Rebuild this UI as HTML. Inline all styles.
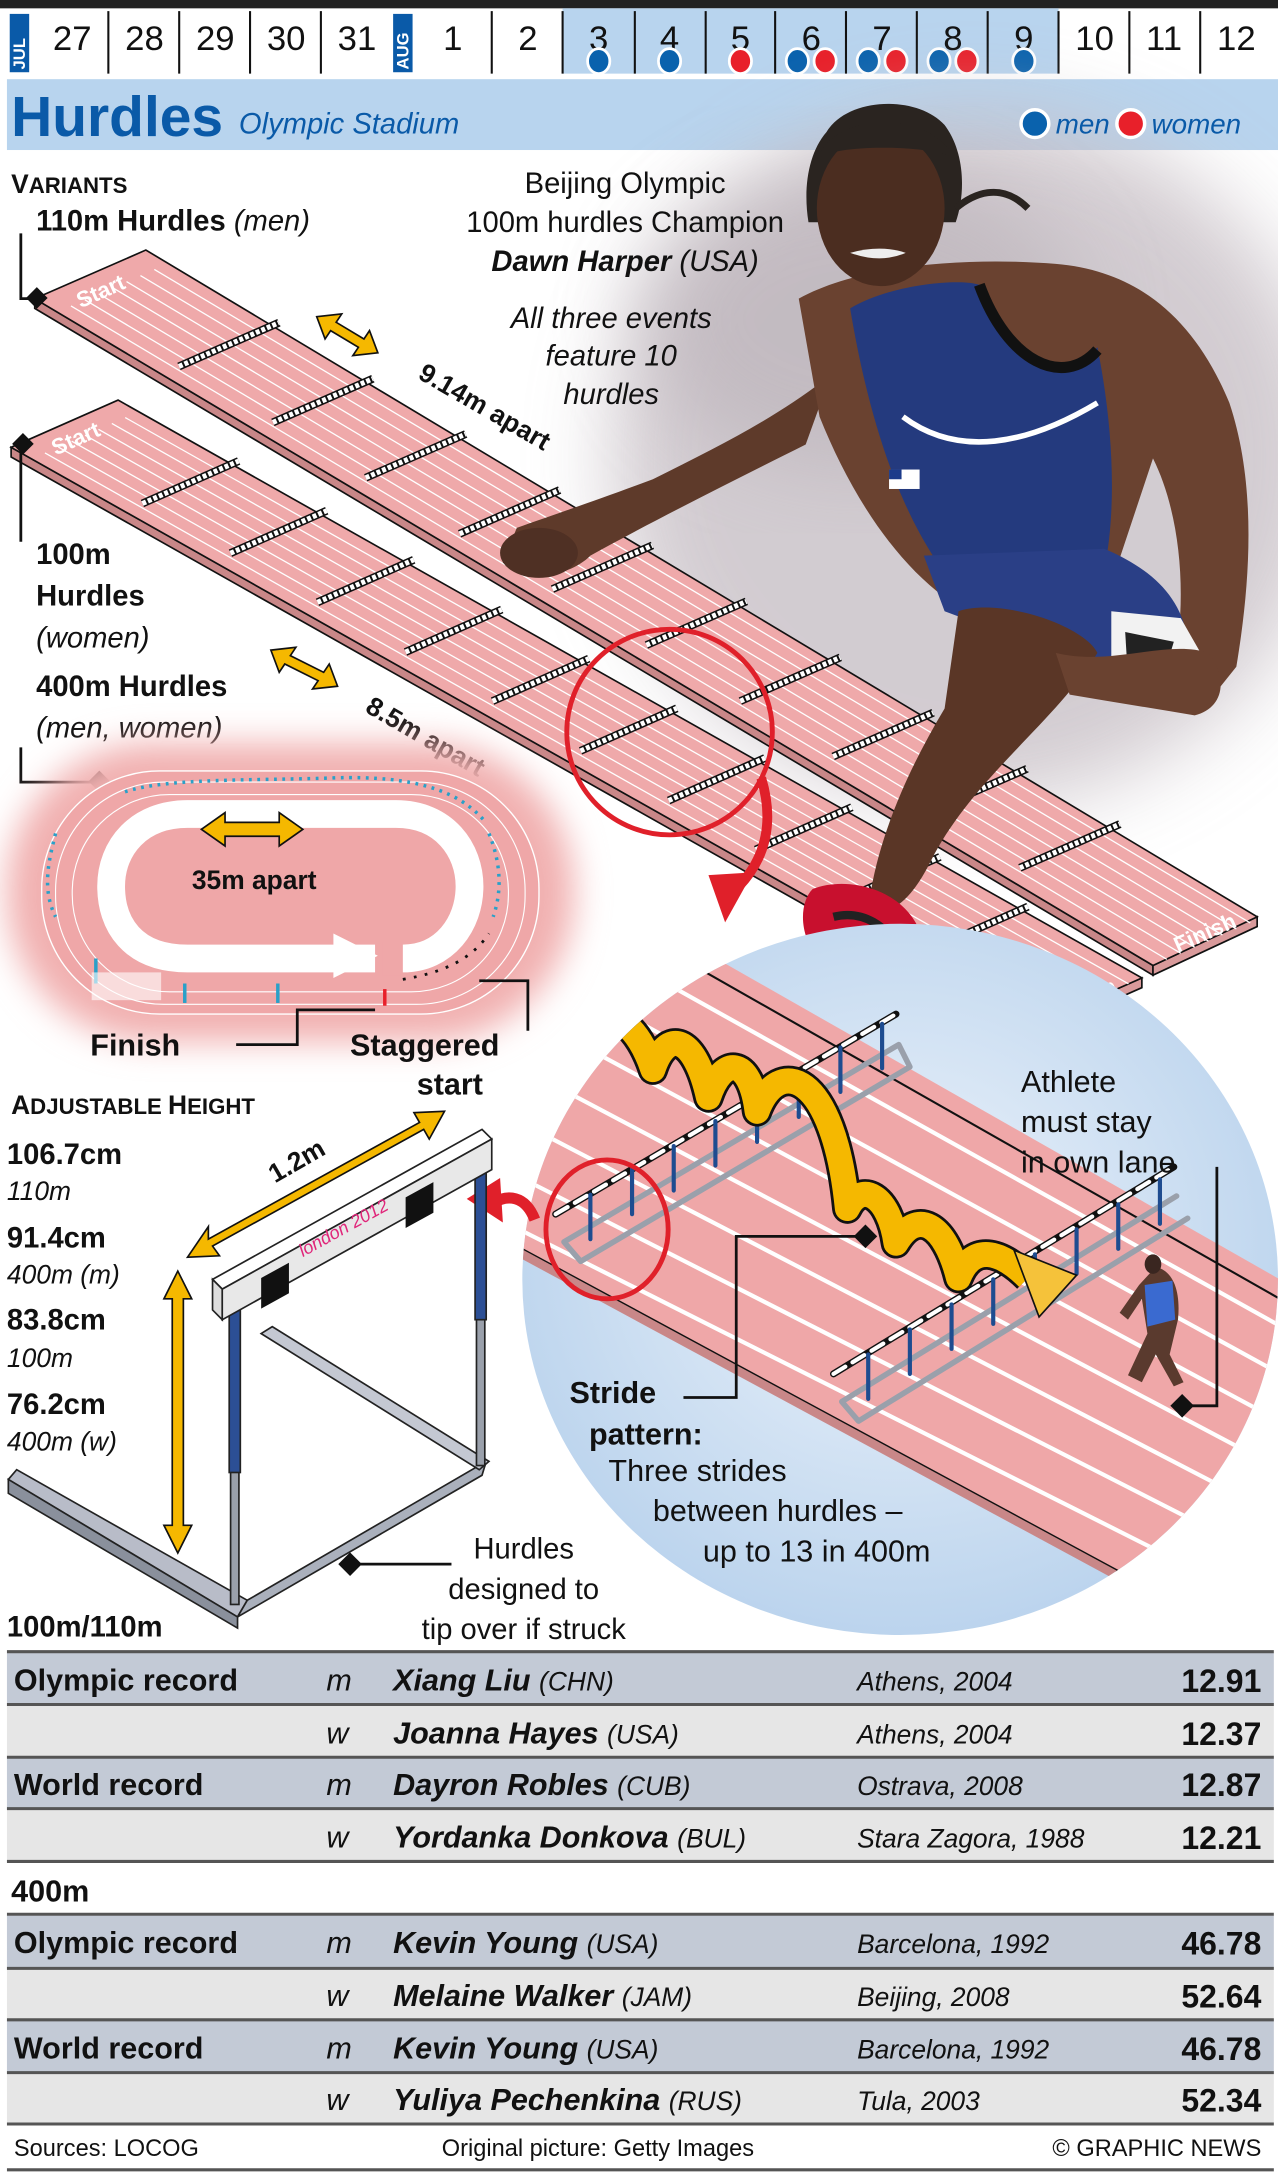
<!DOCTYPE html>
<html><head><meta charset="utf-8"><style>
html,body{margin:0;padding:0;background:#fff}
svg{display:block}
text{font-family:"Liberation Sans",sans-serif}
</style></head><body>
<svg width="1278" height="2174" viewBox="0 0 920 1565" preserveAspectRatio="none" xmlns="http://www.w3.org/2000/svg">
<defs>
<filter id="blur" x="-20%" y="-20%" width="140%" height="140%"><feGaussianBlur stdDeviation="12"/></filter>
<filter id="blur2" x="-20%" y="-20%" width="140%" height="140%"><feGaussianBlur stdDeviation="30"/></filter>
<radialGradient id="cg" cx="0.5" cy="0.45" r="0.6"><stop offset="0" stop-color="#eef4fb"/><stop offset="1" stop-color="#b7d1ec"/></radialGradient>
<clipPath id="cc"><ellipse cx="648" cy="921" rx="272" ry="256"/></clipPath>
</defs>

<!-- calendar -->
<rect x="0" y="0" width="920" height="6" fill="#222"/>
<rect x="405" y="6" width="357" height="47" fill="#b8d4ee"/>
<g stroke="#111" stroke-width="1.5">
<line x1="78" y1="8" x2="78" y2="53"/><line x1="129" y1="8" x2="129" y2="53"/><line x1="180" y1="8" x2="180" y2="53"/><line x1="231" y1="8" x2="231" y2="53"/>
<line x1="354" y1="8" x2="354" y2="53"/><line x1="405" y1="8" x2="405" y2="53"/><line x1="457" y1="8" x2="457" y2="53"/><line x1="508" y1="8" x2="508" y2="53"/><line x1="558" y1="8" x2="558" y2="53"/><line x1="609" y1="8" x2="609" y2="53"/><line x1="660" y1="8" x2="660" y2="53"/><line x1="711" y1="8" x2="711" y2="53"/><line x1="762" y1="8" x2="762" y2="53"/><line x1="813" y1="8" x2="813" y2="53"/><line x1="864" y1="8" x2="864" y2="53"/>
</g>
<rect x="7" y="10" width="14" height="42" fill="#0a5aa8"/>
<text transform="translate(18,50) rotate(-90)" font-size="12" font-weight="bold" fill="#fff">JUL</text>
<rect x="283" y="10" width="14" height="42" fill="#0a5aa8"/>
<text transform="translate(294,50) rotate(-90)" font-size="12" font-weight="bold" fill="#fff">AUG</text>
<g font-size="25" fill="#111" text-anchor="middle">
<text x="52" y="36">27</text><text x="104" y="36">28</text><text x="155" y="36">29</text><text x="206" y="36">30</text><text x="257" y="36">31</text>
<text x="326" y="36">1</text><text x="380" y="36">2</text><text x="431" y="36">3</text><text x="482" y="36">4</text><text x="533" y="36">5</text><text x="584" y="36">6</text><text x="635" y="36">7</text><text x="686" y="36">8</text><text x="737" y="36">9</text><text x="788" y="36">10</text><text x="838" y="36">11</text><text x="890" y="36">12</text>
</g>
<g stroke="#fff" stroke-width="2">
<ellipse cx="431" cy="44" rx="8" ry="9" fill="#0a62ad"/><ellipse cx="482" cy="44" rx="8" ry="9" fill="#0a62ad"/><ellipse cx="533" cy="44" rx="8" ry="9" fill="#e8202a"/>
<ellipse cx="574" cy="44" rx="8" ry="9" fill="#0a62ad"/><ellipse cx="594" cy="44" rx="8" ry="9" fill="#e8202a"/>
<ellipse cx="625" cy="44" rx="8" ry="9" fill="#0a62ad"/><ellipse cx="645" cy="44" rx="8" ry="9" fill="#e8202a"/>
<ellipse cx="676" cy="44" rx="8" ry="9" fill="#0a62ad"/><ellipse cx="696" cy="44" rx="8" ry="9" fill="#e8202a"/>
<ellipse cx="737" cy="44" rx="8" ry="9" fill="#0a62ad"/>
</g>
<!-- title band -->
<rect x="5" y="57" width="915" height="51" fill="#b8d4ee"/>
<text x="8" y="98" font-size="41" font-weight="bold" fill="#0a5aa8">Hurdles</text>
<text x="172" y="96" font-size="21" font-style="italic" fill="#0a5aa8">Olympic Stadium</text>

<!-- photo haze -->
<ellipse cx="700" cy="330" rx="260" ry="250" fill="#c8c0c6" filter="url(#blur2)" opacity="0.8"/>
<ellipse cx="620" cy="230" rx="160" ry="110" fill="#b9b0b7" filter="url(#blur2)" opacity="0.6"/>

<!-- tracks -->
<g stroke="#111" stroke-width="1.2">
<polygon points="25,215 830,695 830,702 25,222" fill="#c98788"/>
<polygon points="830,695 905,660 905,667 830,702" fill="#d99a9b"/>
<polygon points="25,215 105,180 905,660 830,695" fill="#efa9aa"/>
<polygon points="8,322 745,738 745,745 8,329" fill="#c98788"/>
<polygon points="745,738 822,704 822,711 745,745" fill="#d99a9b"/>
<polygon points="8,322 85,288 822,704 745,738" fill="#efa9aa"/>
</g>
<g transform="matrix(805,480,80,-35,25,215)" stroke="#fff" stroke-width="1.3">
<line x1="0.02" y1="0.125" x2="1" y2="0.125" vector-effect="non-scaling-stroke"/><line x1="0.02" y1="0.25" x2="1" y2="0.25" vector-effect="non-scaling-stroke"/><line x1="0.02" y1="0.375" x2="1" y2="0.375" vector-effect="non-scaling-stroke"/><line x1="0.02" y1="0.5" x2="1" y2="0.5" vector-effect="non-scaling-stroke"/><line x1="0.02" y1="0.625" x2="1" y2="0.625" vector-effect="non-scaling-stroke"/><line x1="0.02" y1="0.75" x2="1" y2="0.75" vector-effect="non-scaling-stroke"/><line x1="0.02" y1="0.875" x2="1" y2="0.875" vector-effect="non-scaling-stroke"/>
</g>
<g transform="matrix(737,416,77,-34,8,322)" stroke="#fff" stroke-width="1.3">
<line x1="0.02" y1="0.125" x2="1" y2="0.125" vector-effect="non-scaling-stroke"/><line x1="0.02" y1="0.25" x2="1" y2="0.25" vector-effect="non-scaling-stroke"/><line x1="0.02" y1="0.375" x2="1" y2="0.375" vector-effect="non-scaling-stroke"/><line x1="0.02" y1="0.5" x2="1" y2="0.5" vector-effect="non-scaling-stroke"/><line x1="0.02" y1="0.625" x2="1" y2="0.625" vector-effect="non-scaling-stroke"/><line x1="0.02" y1="0.75" x2="1" y2="0.75" vector-effect="non-scaling-stroke"/><line x1="0.02" y1="0.875" x2="1" y2="0.875" vector-effect="non-scaling-stroke"/>
</g>
<!-- hurdles on tracks -->
<g transform="translate(0,-9)">
<g transform="matrix(805,480,80,-35,25,215)">
<g stroke="#111" stroke-width="8">
<line x1="0.124" y1="0.05" x2="0.124" y2="0.95" vector-effect="non-scaling-stroke"/><line x1="0.208" y1="0.05" x2="0.208" y2="0.95" vector-effect="non-scaling-stroke"/><line x1="0.291" y1="0.05" x2="0.291" y2="0.95" vector-effect="non-scaling-stroke"/><line x1="0.375" y1="0.05" x2="0.375" y2="0.95" vector-effect="non-scaling-stroke"/><line x1="0.458" y1="0.05" x2="0.458" y2="0.95" vector-effect="non-scaling-stroke"/><line x1="0.542" y1="0.05" x2="0.542" y2="0.95" vector-effect="non-scaling-stroke"/><line x1="0.626" y1="0.05" x2="0.626" y2="0.95" vector-effect="non-scaling-stroke"/><line x1="0.709" y1="0.05" x2="0.709" y2="0.95" vector-effect="non-scaling-stroke"/><line x1="0.793" y1="0.05" x2="0.793" y2="0.95" vector-effect="non-scaling-stroke"/><line x1="0.876" y1="0.05" x2="0.876" y2="0.95" vector-effect="non-scaling-stroke"/>
</g>
<g stroke="#fff" stroke-width="5" stroke-dasharray="4 2">
<line x1="0.124" y1="0.05" x2="0.124" y2="0.95" vector-effect="non-scaling-stroke"/><line x1="0.208" y1="0.05" x2="0.208" y2="0.95" vector-effect="non-scaling-stroke"/><line x1="0.291" y1="0.05" x2="0.291" y2="0.95" vector-effect="non-scaling-stroke"/><line x1="0.375" y1="0.05" x2="0.375" y2="0.95" vector-effect="non-scaling-stroke"/><line x1="0.458" y1="0.05" x2="0.458" y2="0.95" vector-effect="non-scaling-stroke"/><line x1="0.542" y1="0.05" x2="0.542" y2="0.95" vector-effect="non-scaling-stroke"/><line x1="0.626" y1="0.05" x2="0.626" y2="0.95" vector-effect="non-scaling-stroke"/><line x1="0.709" y1="0.05" x2="0.709" y2="0.95" vector-effect="non-scaling-stroke"/><line x1="0.793" y1="0.05" x2="0.793" y2="0.95" vector-effect="non-scaling-stroke"/><line x1="0.876" y1="0.05" x2="0.876" y2="0.95" vector-effect="non-scaling-stroke"/>
</g>
</g>
<g transform="matrix(737,416,77,-34,8,322)">
<g stroke="#111" stroke-width="8">
<line x1="0.123" y1="0.05" x2="0.123" y2="0.95" vector-effect="non-scaling-stroke"/><line x1="0.209" y1="0.05" x2="0.209" y2="0.95" vector-effect="non-scaling-stroke"/><line x1="0.294" y1="0.05" x2="0.294" y2="0.95" vector-effect="non-scaling-stroke"/><line x1="0.380" y1="0.05" x2="0.380" y2="0.95" vector-effect="non-scaling-stroke"/><line x1="0.465" y1="0.05" x2="0.465" y2="0.95" vector-effect="non-scaling-stroke"/><line x1="0.551" y1="0.05" x2="0.551" y2="0.95" vector-effect="non-scaling-stroke"/><line x1="0.637" y1="0.05" x2="0.637" y2="0.95" vector-effect="non-scaling-stroke"/><line x1="0.722" y1="0.05" x2="0.722" y2="0.95" vector-effect="non-scaling-stroke"/><line x1="0.808" y1="0.05" x2="0.808" y2="0.95" vector-effect="non-scaling-stroke"/><line x1="0.894" y1="0.05" x2="0.894" y2="0.95" vector-effect="non-scaling-stroke"/>
</g>
<g stroke="#fff" stroke-width="5" stroke-dasharray="4 2">
<line x1="0.123" y1="0.05" x2="0.123" y2="0.95" vector-effect="non-scaling-stroke"/><line x1="0.209" y1="0.05" x2="0.209" y2="0.95" vector-effect="non-scaling-stroke"/><line x1="0.294" y1="0.05" x2="0.294" y2="0.95" vector-effect="non-scaling-stroke"/><line x1="0.380" y1="0.05" x2="0.380" y2="0.95" vector-effect="non-scaling-stroke"/><line x1="0.465" y1="0.05" x2="0.465" y2="0.95" vector-effect="non-scaling-stroke"/><line x1="0.551" y1="0.05" x2="0.551" y2="0.95" vector-effect="non-scaling-stroke"/><line x1="0.637" y1="0.05" x2="0.637" y2="0.95" vector-effect="non-scaling-stroke"/><line x1="0.722" y1="0.05" x2="0.722" y2="0.95" vector-effect="non-scaling-stroke"/><line x1="0.808" y1="0.05" x2="0.808" y2="0.95" vector-effect="non-scaling-stroke"/><line x1="0.894" y1="0.05" x2="0.894" y2="0.95" vector-effect="non-scaling-stroke"/>
</g>
</g>
</g>
<g font-size="16" font-weight="bold" fill="#fff">
<text transform="translate(58,222) rotate(-24)">Start</text>
<text transform="translate(40,328) rotate(-24)">Start</text>
<text transform="translate(848,686) rotate(-24)">Finish</text>
<text transform="translate(762,733) rotate(-24)">Finish</text>
</g>

<!-- athlete -->
<g>
<path d="M598,270 C560,300 520,320 470,345 C430,360 400,370 372,380 L362,405 C380,420 410,415 425,400 C470,375 530,345 580,320 Z" fill="#5e3a2a"/>
<ellipse cx="388" cy="398" rx="28" ry="18" fill="#4f3024"/>
<path d="M575,215 C620,190 700,185 760,190 C820,195 860,230 885,290 C905,350 900,420 890,480 L870,505 C855,510 840,500 845,480 C855,430 850,370 830,330 L800,420 L680,430 C640,400 610,350 590,300 Z" fill="#6a4230"/>
<path d="M612,222 C640,205 690,200 705,205 C720,260 760,280 790,250 C800,300 805,360 795,410 L690,425 C660,390 630,330 612,222 Z" fill="#243a7e"/>
<path d="M705,205 C725,260 765,280 790,252" fill="none" stroke="#111" stroke-width="8"/>
<path d="M650,300 C690,330 740,320 790,290" fill="none" stroke="#fff" stroke-width="4"/>
<rect x="640" y="338" width="22" height="14" fill="#fff"/><rect x="640" y="338" width="9" height="7" fill="#1c3a8a"/>
<path d="M665,400 L795,395 C830,410 850,430 855,460 L830,500 L760,470 L680,440 Z" fill="#2a3f86"/>
<path d="M800,440 L850,445 L870,480 L840,510 L800,495 Z" fill="#f2f2f2"/>
<path d="M810,455 L845,462 L835,495 L812,488 Z" fill="#222"/>
<path d="M690,440 C720,430 780,450 790,470 C760,520 700,560 670,620 C655,650 640,660 625,655 C630,610 650,560 680,510 Z" fill="#5a3626"/>
<path d="M760,470 C800,480 840,460 870,470 C885,490 880,510 860,515 C830,510 800,505 770,500 Z" fill="#6a4230"/>
<path d="M585,640 C610,630 650,640 662,670 C668,700 660,720 640,725 C625,720 610,700 590,690 C575,675 575,650 585,640 Z" fill="#c8102e"/>
<path d="M600,660 C620,655 640,665 650,690" stroke="#222" stroke-width="6" fill="none"/>
<path d="M595,95 C610,70 660,68 680,90 C695,110 695,140 688,160 L582,160 C578,135 582,110 595,95 Z" fill="#2a2420"/>
<ellipse cx="634" cy="150" rx="46" ry="56" fill="#4b2d20"/>
<path d="M588,115 C600,80 670,78 688,115 C680,105 600,102 588,115 Z" fill="#2a2420"/>
<path d="M688,150 C700,140 720,130 740,150" stroke="#2a2420" stroke-width="5" fill="none"/>
<path d="M612,182 Q634,176 652,182 Q634,190 612,182 Z" fill="#eee"/>
</g>

<!-- header texts -->
<g fill="#111" text-anchor="middle">
<text x="450" y="139" font-size="21">Beijing Olympic</text>
<text x="450" y="167" font-size="21">100m hurdles Champion</text>
<text x="450" y="195" font-size="21" font-weight="bold" font-style="italic">Dawn Harper <tspan font-weight="normal">(USA)</tspan></text>
<text x="440" y="236" font-size="21" font-style="italic">All three events</text>
<text x="440" y="263" font-size="21" font-style="italic">feature 10</text>
<text x="440" y="291" font-size="21" font-style="italic">hurdles</text>
</g>
<g fill="#111" font-weight="bold">
<text x="8" y="139" font-size="19">V<tspan font-size="16">ARIANTS</tspan></text>
<text x="26" y="166" font-size="21">110m Hurdles <tspan font-weight="normal" font-style="italic">(men)</tspan></text>
<text x="26" y="406" font-size="21">100m</text>
<text x="26" y="436" font-size="21">Hurdles</text>
<text x="26" y="466" font-size="21" font-weight="normal" font-style="italic">(women)</text>
<text x="26" y="501" font-size="21">400m Hurdles</text>
<text x="26" y="531" font-size="21" font-weight="normal" font-style="italic">(men, women)</text>
</g>
<g stroke="#111" stroke-width="2" fill="none">
<polyline points="15,168 15,215 28,215"/>
<polyline points="15,325 15,390"/>
<polyline points="15,538 15,563 70,563"/>
</g>
<g fill="#111">
<rect x="21" y="209" width="11" height="11" transform="rotate(45 26.5 214.5)"/>
<rect x="11" y="314" width="11" height="11" transform="rotate(45 16.5 319.5)"/>
<rect x="66" y="557" width="11" height="11" transform="rotate(45 71.5 562.5)"/>
</g>
<!-- yellow arrows -->
<g fill="#f5b800" stroke="#111" stroke-width="1.2">
<polygon points="228,228 246,226 242,232 262,244 266,238 272,254 254,256 258,250 238,238 234,244"/>
<polygon points="195,468 213,466 209,472 233,484 237,478 243,494 225,496 229,490 205,478 201,484"/>
</g>
<g fill="#111" font-weight="bold" font-size="19">
<text transform="translate(300,272) rotate(30)">9.14m apart</text>
<text transform="translate(262,512) rotate(30)">8.5m apart</text>
</g>

<!-- oval track -->
<rect x="5" y="535" width="408" height="215" rx="105" fill="#f1b0b0" filter="url(#blur)"/>
<rect x="30" y="555" width="358" height="175" rx="85" fill="#efa7a8" stroke="#fff" stroke-width="1" />
<rect x="40" y="563" width="338" height="160" rx="78" fill="none" stroke="#fff" stroke-width="0.8"/>
<rect x="52" y="572" width="314" height="142" rx="70" fill="none" stroke="#fff" stroke-width="0.8"/>
<path d="M270,690 L135,690 C95,690 80,665 80,638 C80,610 100,586 135,586 L285,586 C320,586 338,612 338,638 C338,665 320,690 290,690" fill="#efa7a8" stroke="#fff" stroke-width="20"/>
<polygon points="240,672 272,688 240,704" fill="#fff"/>
<rect x="275" y="678" width="14" height="24" fill="#efa7a8"/>
<g stroke="#2aa0c8" stroke-width="2.5" stroke-dasharray="2 4" fill="none">
<path d="M90,570 C120,560 180,562 240,560 C300,558 330,570 348,590"/>
<path d="M40,600 C35,620 30,640 40,660"/>
<path d="M352,600 C360,620 362,640 355,660"/>
</g>
<path d="M290,705 C320,700 340,690 352,672" stroke="#111" stroke-width="2" stroke-dasharray="2 6" fill="none"/>
<g stroke="#2aa0c8" stroke-width="2.5"><line x1="69" y1="690" x2="69" y2="708"/><line x1="133" y1="708" x2="133" y2="722"/><line x1="200" y1="708" x2="200" y2="722"/></g>
<line x1="277" y1="712" x2="277" y2="724" stroke="#e8202a" stroke-width="2.5"/>
<rect x="66" y="700" width="50" height="20" fill="#fff" opacity="0.6"/>
<g fill="#f5b800" stroke="#111" stroke-width="1.2">
<polygon points="145,597 162,585 162,592 201,592 201,585 218,597 201,609 201,602 162,602 162,609"/>
</g>
<text x="183" y="640" font-size="19" font-weight="bold" fill="#111" text-anchor="middle">35m apart</text>
<text x="65" y="760" font-size="22" font-weight="bold" fill="#111">Finish</text>
<text x="252" y="760" font-size="22" font-weight="bold" fill="#111">Staggered</text>
<text x="300" y="788" font-size="22" font-weight="bold" fill="#111">start</text>
<polyline points="170,752 214,752 214,727 270,727" stroke="#111" stroke-width="2" fill="none"/>
<polyline points="345,706 380,706 380,742" stroke="#111" stroke-width="2" fill="none"/>

<!-- red circle on track -->
<circle cx="482" cy="527" r="74" fill="none" stroke="#e0202a" stroke-width="3.5"/>
<path d="M548,560 C560,600 545,625 530,640" fill="none" stroke="#e0202a" stroke-width="7"/>
<polygon points="510,630 542,628 522,664" fill="#e0202a"/>

<!-- zoom circle -->
<ellipse cx="648" cy="921" rx="272" ry="256" fill="url(#cg)"/>
<g clip-path="url(#cc)">
<polygon points="340,590 960,943 960,1215 340,880" fill="#efa7a8"/>
<line x1="340" y1="880" x2="960" y2="1215" stroke="#111" stroke-width="2"/>
<polygon points="340,880 960,1215 960,1222 340,887" fill="#c98788"/>
<line x1="480" y1="684" x2="960" y2="957" stroke="#111" stroke-width="1.5"/>
<g stroke="#fff" stroke-width="3">
<line x1="340" y1="630" x2="960" y2="976"/><line x1="340" y1="670" x2="960" y2="1010"/><line x1="340" y1="710" x2="960" y2="1044"/><line x1="340" y1="750" x2="960" y2="1078"/><line x1="340" y1="790" x2="960" y2="1112"/><line x1="340" y1="830" x2="960" y2="1146"/><line x1="340" y1="868" x2="960" y2="1180"/>
</g>
<!-- hurdle rows -->
<g fill="none" stroke-linecap="round">
<path d="M406,894 L647,752 M418,908 L655,768 M406,894 L418,908 M647,752 L655,768" stroke="#9aa0ab" stroke-width="4"/>
<path d="M400,874 L645,730" stroke="#111" stroke-width="5"/><path d="M400,874 L645,730" stroke="#fff" stroke-width="3" stroke-dasharray="10 6"/>
<g stroke="#1e4c90" stroke-width="3"><line x1="425" y1="860" x2="425" y2="892"/><line x1="455" y1="842" x2="455" y2="874"/><line x1="485" y1="825" x2="485" y2="857"/><line x1="515" y1="807" x2="515" y2="839"/><line x1="545" y1="790" x2="545" y2="822"/><line x1="575" y1="772" x2="575" y2="804"/><line x1="605" y1="754" x2="605" y2="786"/><line x1="635" y1="737" x2="635" y2="769"/></g>
<path d="M606,1009 L847,861 M618,1023 L855,877 M606,1009 L618,1023" stroke="#9aa0ab" stroke-width="4"/>
<path d="M600,989 L845,840" stroke="#111" stroke-width="5"/><path d="M600,989 L845,840" stroke="#fff" stroke-width="3" stroke-dasharray="10 6"/>
<g stroke="#1e4c90" stroke-width="3"><line x1="625" y1="975" x2="625" y2="1007"/><line x1="655" y1="957" x2="655" y2="989"/><line x1="685" y1="939" x2="685" y2="971"/><line x1="715" y1="921" x2="715" y2="953"/><line x1="745" y1="903" x2="745" y2="935"/><line x1="775" y1="885" x2="775" y2="917"/><line x1="805" y1="867" x2="805" y2="899"/><line x1="835" y1="849" x2="835" y2="881"/></g>
</g>
<!-- yellow ribbon -->
<path d="M425,745 C440,720 460,740 470,770 C480,740 500,745 510,790 C520,760 540,760 545,800 C560,760 600,770 610,870 C620,850 640,860 645,895 C660,870 680,880 690,920 C700,895 720,900 740,920" fill="none" stroke="#111" stroke-width="22" stroke-linejoin="round"/>
<path d="M425,745 C440,720 460,740 470,770 C480,740 500,745 510,790 C520,760 540,760 545,800 C560,760 600,770 610,870 C620,850 640,860 645,895 C660,870 680,880 690,920 C700,895 720,900 740,920" fill="none" stroke="#f5b800" stroke-width="18" stroke-linejoin="round"/>
<polygon points="730,900 775,918 748,948" fill="#f5c23a" stroke="#111" stroke-width="1.2"/>
<!-- runner -->
<path d="M832,912 C845,915 850,930 848,950 L842,975 L852,995 L845,998 L832,975 L822,995 L812,990 L826,960 L822,935 L812,950 L806,945 L820,925 Z" fill="#5a3a2e"/>
<ellipse cx="830" cy="910" rx="6" ry="7" fill="#3a2620"/>
<path d="M824,925 L844,922 L846,950 L826,955 Z" fill="#3a6ad0"/>
</g>
<!-- red small circle & arrow -->
<ellipse cx="437" cy="885" rx="44" ry="50" fill="none" stroke="#e0202a" stroke-width="3.5"/>
<path d="M385,878 C378,860 365,860 355,866" fill="none" stroke="#e0202a" stroke-width="8"/>
<polygon points="336,863 360,848 362,880" fill="#e0202a"/>
<!-- circle texts -->
<g fill="#111" font-size="22">
<text x="735" y="786">Athlete</text>
<text x="735" y="815">must stay</text>
<text x="735" y="844">in own lane</text>
<text x="410" y="1010" font-weight="bold">Stride</text>
<text x="424" y="1040" font-weight="bold">pattern:</text>
<text x="438" y="1066">Three strides</text>
<text x="470" y="1095">between hurdles –</text>
<text x="506" y="1124">up to 13 in 400m</text>
</g>
<polyline points="876,840 876,1012 855,1012" stroke="#111" stroke-width="2" fill="none"/>
<rect x="845" y="1006" width="12" height="12" fill="#111" transform="rotate(45 851 1012)"/>
<polyline points="492,1006 530,1006 530,890 620,890" stroke="#111" stroke-width="2" fill="none"/>
<rect x="617" y="884" width="12" height="12" fill="#111" transform="rotate(45 623 890)"/>

<!-- hurdle diagram -->
<g fill="#111">
<text x="8" y="802" font-size="19" font-weight="bold">A<tspan font-size="16">DJUSTABLE </tspan>H<tspan font-size="16">EIGHT</tspan></text>
<text x="5" y="838" font-size="21" font-weight="bold">106.7cm</text>
<text x="5" y="864" font-size="19" font-style="italic">110m</text>
<text x="5" y="898" font-size="21" font-weight="bold">91.4cm</text>
<text x="5" y="924" font-size="19" font-style="italic">400m (m)</text>
<text x="5" y="957" font-size="21" font-weight="bold">83.8cm</text>
<text x="5" y="984" font-size="19" font-style="italic">100m</text>
<text x="5" y="1018" font-size="21" font-weight="bold">76.2cm</text>
<text x="5" y="1044" font-size="19" font-style="italic">400m (w)</text>
<text x="5" y="1178" font-size="21" font-weight="bold">100m/110m</text>
</g>
<g stroke="#222" stroke-width="1.2">
<polygon points="6,1065 12,1058 178,1152 171,1164" fill="#b8bcc8"/>
<polygon points="171,1164 178,1152 350,1052 347,1062" fill="#aab0bc"/>
<polygon points="188,960 196,955 352,1052 345,1058" fill="#c4c8d2"/>
<polygon points="6,1065 171,1164 171,1172 6,1075" fill="#8a909c"/>
<rect x="166" y="930" width="6" height="225" fill="#9aa0ab"/>
<rect x="165" y="930" width="8" height="130" fill="#2c4f95"/>
<rect x="343" y="820" width="6" height="235" fill="#9aa0ab"/>
<rect x="342" y="820" width="8" height="130" fill="#2c4f95"/>
<polygon points="153,921 347,813 354,820 160,928" fill="#fff"/>
<polygon points="153,921 160,928 160,950 153,943" fill="#ddd"/>
<polygon points="160,928 354,820 354,842 160,950" fill="#e8e8e8"/>
</g>
<polygon points="188,920 208,909 208,931 188,942" fill="#111"/>
<polygon points="292,862 312,851 312,873 292,884" fill="#111"/>
<text transform="translate(218,905) rotate(-29)" font-size="13" font-style="italic" fill="#e0267a">london 2012</text>
<g fill="#f5b800" stroke="#111" stroke-width="1.2">
<polygon points="135,905 150,883 150,892 302,808 298,801 320,800 309,820 305,813 153,897 158,904"/>
<polygon points="128,915 138,935 132,935 132,1098 138,1098 128,1118 118,1098 124,1098 124,935 118,935"/>
</g>
<text transform="translate(198,852) rotate(-30)" font-size="19" font-weight="bold" fill="#111">1.2m</text>
<g fill="#111" font-size="21" text-anchor="middle">
<text x="377" y="1122">Hurdles</text>
<text x="377" y="1151">designed to</text>
<text x="377" y="1180">tip over if struck</text>
</g>
<line x1="253" y1="1126" x2="325" y2="1126" stroke="#111" stroke-width="2"/>
<rect x="246" y="1120" width="12" height="12" fill="#111" transform="rotate(45 252 1126)"/>

<!-- legend -->
<circle cx="745" cy="89" r="10" fill="#0a62ad" stroke="#fff" stroke-width="2.5"/>
<text x="760" y="96" font-size="20" font-style="italic" fill="#0a5aa8">men</text>
<circle cx="814" cy="89" r="10" fill="#e8202a" stroke="#fff" stroke-width="2.5"/>
<text x="829" y="96" font-size="20" font-style="italic" fill="#0a5aa8">women</text>

<!-- table -->
<g>
<rect x="5" y="1190" width="912" height="37" fill="#c3cad6"/>
<rect x="5" y="1227" width="912" height="38" fill="#e6e6e6"/>
<rect x="5" y="1265" width="912" height="37" fill="#c3cad6"/>
<rect x="5" y="1302" width="912" height="38" fill="#e6e6e6"/>
<rect x="5" y="1379" width="912" height="38" fill="#c3cad6"/>
<rect x="5" y="1417" width="912" height="37" fill="#e6e6e6"/>
<rect x="5" y="1454" width="912" height="38" fill="#c3cad6"/>
<rect x="5" y="1492" width="912" height="37" fill="#e6e6e6"/>
<g stroke="#555" stroke-width="2.2">
<line x1="5" y1="1189" x2="917" y2="1189"/><line x1="5" y1="1227" x2="917" y2="1227"/><line x1="5" y1="1265" x2="917" y2="1265"/><line x1="5" y1="1302" x2="917" y2="1302"/><line x1="5" y1="1340" x2="917" y2="1340"/>
<line x1="5" y1="1378" x2="917" y2="1378"/><line x1="5" y1="1417" x2="917" y2="1417"/><line x1="5" y1="1454" x2="917" y2="1454"/><line x1="5" y1="1492" x2="917" y2="1492"/><line x1="5" y1="1529" x2="917" y2="1529"/>
<line x1="5" y1="1562" x2="917" y2="1562"/>
</g>
<g fill="#111" font-size="22">
<g font-weight="bold"><text x="10" y="1217">Olympic record</text><text x="10" y="1292">World record</text><text x="8" y="1369">400m</text><text x="10" y="1406">Olympic record</text><text x="10" y="1482">World record</text></g>
<g font-style="italic"><text x="235" y="1217">m</text><text x="235" y="1255">w</text><text x="235" y="1292">m</text><text x="235" y="1330">w</text><text x="235" y="1406">m</text><text x="235" y="1444">w</text><text x="235" y="1482">m</text><text x="235" y="1519">w</text></g>
<g font-style="italic" font-weight="bold">
<text x="283" y="1217">Xiang Liu <tspan font-weight="normal" font-size="19">(CHN)</tspan></text>
<text x="283" y="1255">Joanna Hayes <tspan font-weight="normal" font-size="19">(USA)</tspan></text>
<text x="283" y="1292">Dayron Robles <tspan font-weight="normal" font-size="19">(CUB)</tspan></text>
<text x="283" y="1330">Yordanka Donkova <tspan font-weight="normal" font-size="19">(BUL)</tspan></text>
<text x="283" y="1406">Kevin Young <tspan font-weight="normal" font-size="19">(USA)</tspan></text>
<text x="283" y="1444">Melaine Walker <tspan font-weight="normal" font-size="19">(JAM)</tspan></text>
<text x="283" y="1482">Kevin Young <tspan font-weight="normal" font-size="19">(USA)</tspan></text>
<text x="283" y="1519">Yuliya Pechenkina <tspan font-weight="normal" font-size="19">(RUS)</tspan></text>
</g>
<g font-style="italic" font-size="19">
<text x="617" y="1217">Athens, 2004</text><text x="617" y="1255">Athens, 2004</text><text x="617" y="1292">Ostrava, 2008</text><text x="617" y="1330">Stara Zagora, 1988</text>
<text x="617" y="1406">Barcelona, 1992</text><text x="617" y="1444">Beijing, 2008</text><text x="617" y="1482">Barcelona, 1992</text><text x="617" y="1519">Tula, 2003</text>
</g>
<g font-weight="bold" text-anchor="end" font-size="23">
<text x="908" y="1218">12.91</text><text x="908" y="1256">12.37</text><text x="908" y="1293">12.87</text><text x="908" y="1331">12.21</text>
<text x="908" y="1407">46.78</text><text x="908" y="1445">52.64</text><text x="908" y="1483">46.78</text><text x="908" y="1520">52.34</text>
</g>
<g font-size="17"><text x="10" y="1552">Sources: LOCOG</text><text x="318" y="1552">Original picture: Getty Images</text><text x="908" y="1552" text-anchor="end">© GRAPHIC NEWS</text></g>
</g>
</g>
</svg>
</body></html>
